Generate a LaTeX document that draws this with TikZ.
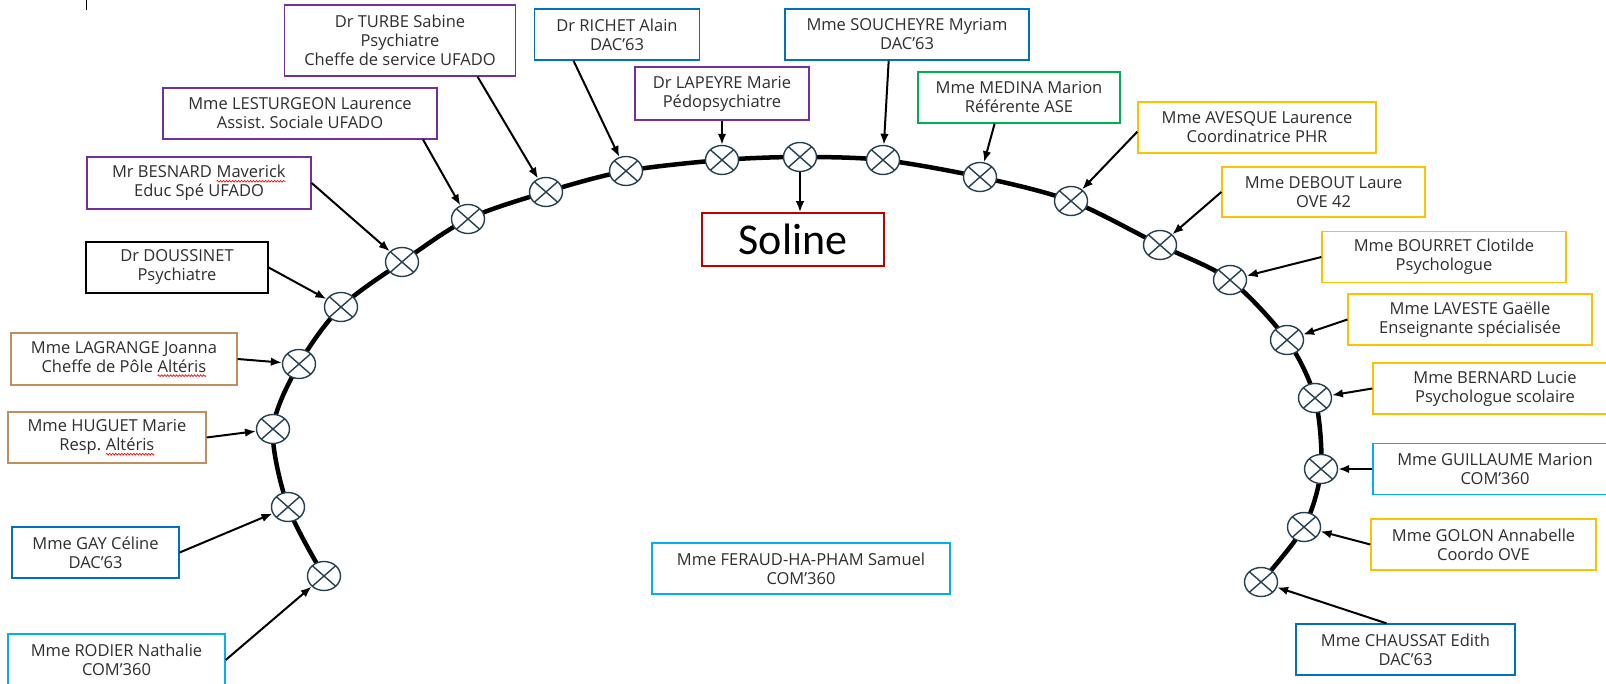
\documentclass[tikz,border=0pt]{standalone}
\usepackage{fontspec}
\setmainfont{Open Sans}
\newfontfamily\solinefont{Carlito}
\usepackage{tikz}
\usetikzlibrary{shapes,arrows.meta,backgrounds,decorations.pathmorphing}
\frenchspacing

\definecolor{violetbox}{RGB}{112,48,160}
\definecolor{bleubox}{RGB}{0,112,192}
\definecolor{cyanbox}{RGB}{0,176,240}
\definecolor{vertbox}{RGB}{0,176,80}
\definecolor{orbox}{RGB}{255,192,0}
\definecolor{brunbox}{RGB}{191,143,95}
\definecolor{rougebox}{RGB}{192,0,0}
\definecolor{croixcol}{RGB}{38,64,80}

\newcommand\ondule[1]{\tikz[baseline=(mot.base)]{\node[inner sep=0pt, outer sep=0pt,
    minimum width=0pt, minimum height=0pt, draw=none, fill=none, anchor=base] (mot) {#1};
    \draw[red, line width=0.7pt, decorate, decoration={snake, amplitude=0.8pt, segment length=3pt}]
    ([yshift=-3.5pt]mot.base west) -- ([yshift=-3.5pt]mot.base east);}}

\begin{document}
\begin{tikzpicture}[x=1pt,y=-1pt,
    %
    pers/.style={rectangle, draw, line width=1.3pt, fill=white, align=center,
    text=black!82, font=\fontsize{16.5}{19}\selectfont,
    minimum height=51pt, inner sep=2pt},
    cible/.style={rectangle, draw=rougebox, line width=1.6pt, fill=white,
    font=\solinefont\fontsize{44}{46}\selectfont, minimum width=182pt, minimum height=53pt},
    jonc/.style={ellipse, draw=croixcol, line width=1.4pt, fill=white,
    minimum width=33pt, minimum height=29pt, inner sep=0pt,
    path picture={\draw[croixcol, line width=1.4pt]
        (path picture bounding box.north west) -- (path picture bounding box.south east)
        (path picture bounding box.north east) -- (path picture bounding box.south west);}},
    fl/.style={-{Latex[length=11pt,width=8.5pt]}, line width=2pt}]
    \useasboundingbox (0,0) rectangle (1606,684);
    \draw[line width=0.8pt] (86,0) -- (86,10);

    % les jonctions sur l'arc
    \node[jonc] (j1) at (324,576) {};
    \node[jonc] (j2) at (288,507) {};
    \node[jonc] (j3) at (273,429) {};
    \node[jonc] (j4) at (299,364) {};
    \node[jonc] (j5) at (341,307) {};
    \node[jonc] (j6) at (402,262) {};
    \node[jonc] (j7) at (468,219) {};
    \node[jonc] (j8) at (546,192) {};
    \node[jonc] (j9) at (626,171) {};
    \node[jonc] (j10) at (722,160) {};
    \node[jonc] (j11) at (800,157) {};
    \node[jonc] (j12) at (883,160) {};
    \node[jonc] (j13) at (980,177) {};
    \node[jonc] (j14) at (1071,201) {};
    \node[jonc] (j15) at (1160,245) {};
    \node[jonc] (j16) at (1230,280) {};
    \node[jonc] (j17) at (1287,340) {};
    \node[jonc] (j18) at (1315,398) {};
    \node[jonc] (j19) at (1321,469) {};
    \node[jonc] (j20) at (1304,527) {};
    \node[jonc] (j21) at (1261,582) {};
    \begin{pgfonlayer}{background}
    \draw[line width=4.5pt] plot[smooth] coordinates {(j1.center) (j2.center) (j3.center)
        (j4.center) (j5.center) (j6.center) (j7.center) (j8.center) (j9.center)
        (j10.center) (j11.center) (j12.center) (j13.center) (j14.center) (j15.center)
        (j16.center) (j17.center) (j18.center) (j19.center) (j20.center) (j21.center)};
    \end{pgfonlayer}

    \node[cible] (soline) at (793,239.5) {Soline};

    % a gauche
    \node[pers, draw=violetbox, minimum width=231pt, minimum height=71pt] (turbe) at (400,40.5)
        {Dr TURBE Sabine\\Psychiatre\\Cheffe de service UFADO};
    \node[pers, draw=violetbox, minimum width=274pt] (lestur) at (300,113.5)
        {Mme LESTURGEON Laurence\\Assist. Sociale UFADO};
    \node[pers, draw=violetbox, minimum width=224pt, minimum height=52pt] (besnard) at (199,183)
        {Mr BESNARD \ondule{Maverick}\\Educ Spé UFADO};
    \node[pers, draw=black, minimum width=182pt] (doussinet) at (177,267.5)
        {Dr DOUSSINET\\Psychiatre};
    \node[pers, draw=brunbox, minimum width=226pt, minimum height=52pt] (lagrange) at (124,359)
        {Mme LAGRANGE Joanna\\Cheffe de Pôle \ondule{Altéris}};
    \node[pers, draw=brunbox, minimum width=198pt] (huguet) at (107,437.5)
        {Mme HUGUET Marie\\Resp. \ondule{Altéris}};
    \node[pers, draw=bleubox, minimum width=167pt] (gay) at (95.5,552.5)
        {Mme GAY Céline\\DAC’63};
    \node[pers, draw=cyanbox, minimum width=217pt, minimum height=52pt] (rodier) at (116.5,660)
        {Mme RODIER Nathalie\\COM’360};

    % en haut
    \node[pers, draw=bleubox, minimum width=165pt] (richet) at (617,34.5)
        {Dr RICHET Alain\\DAC’63};
    \node[pers, draw=violetbox, minimum width=174pt, minimum height=53pt] (lapeyre) at (722,93.5)
        {Dr LAPEYRE Marie\\Pédopsychiatre};
    \node[pers, draw=bleubox, minimum width=244pt] (soucheyre) at (907,34.5)
        {Mme SOUCHEYRE Myriam\\DAC’63};
    \node[pers, draw=vertbox, minimum width=202pt] (medina) at (1019,97.5)
        {Mme MEDINA Marion\\Référente ASE};

    % a droite
    \node[pers, draw=orbox, minimum width=238pt] (avesque) at (1257,127.5)
        {Mme AVESQUE Laurence\\Coordinatrice PHR};
    \node[pers, draw=orbox, minimum width=203pt, minimum height=50pt] (debout) at (1323.5,192)
        {Mme DEBOUT Laure\\OVE 42};
    \node[pers, draw=orbox, minimum width=244pt] (bourret) at (1444,257)
        {Mme BOURRET Clotilde\\Psychologue};
    \node[pers, draw=orbox, minimum width=244pt] (laveste) at (1470,319.5)
        {Mme LAVESTE Gaëlle\\Enseignante spécialisée};
    \node[pers, draw=orbox, minimum width=244pt] (bernard) at (1495,388.5)
        {Mme BERNARD Lucie\\Psychologue scolaire};
    \node[pers, draw=cyanbox, minimum width=244pt] (guillaume) at (1495,469)
        {Mme GUILLAUME Marion\\COM’360};
    \node[pers, draw=orbox, minimum width=225pt] (golon) at (1483.5,544.5)
        {Mme GOLON Annabelle\\Coordo OVE};
    \node[pers, draw=bleubox, minimum width=219pt] (chaussat) at (1405.5,649.5)
        {Mme CHAUSSAT Edith\\DAC’63};

    \node[pers, draw=cyanbox, minimum width=298pt] (feraud) at (801,568.5)
        {Mme FERAUD-HA-PHAM Samuel\\COM’360};

    % les fleches
    \draw[fl] (rodier.east) -- (j1);
    \draw[fl] (gay.east) -- (j2);
    \draw[fl] (huguet.east) -- (j3);
    \draw[fl] (lagrange.east) -- (j4);
    \draw[fl] (doussinet.east) -- (j5);
    \draw[fl] (besnard.east) -- (j6);
    \draw[fl] (lestur.-12) -- (j7);
    \draw[fl] (turbe.-25) -- (j8);
    \draw[fl] (richet.-149) -- (j9);
    \draw[fl] (lapeyre.south) -- (j10);
    \draw[fl] (j11) -- (j11 |- soline.north);
    \draw[fl] (soucheyre.-125) -- (j12);
    \draw[fl] (medina.-133) -- (j13);
    \draw[fl] (avesque.-178) -- (j14);
    \draw[fl] (debout.west) -- (j15);
    \draw[fl] (bourret.west) -- (j16);
    \draw[fl] (laveste.west) -- (j17);
    \draw[fl] (bernard.west) -- (j18);
    \draw[fl] (guillaume.west) -- (j19);
    \draw[fl] (golon.west) -- (j20);
    \draw[fl] (chaussat.126) -- (j21);
\end{tikzpicture}
\end{document}
